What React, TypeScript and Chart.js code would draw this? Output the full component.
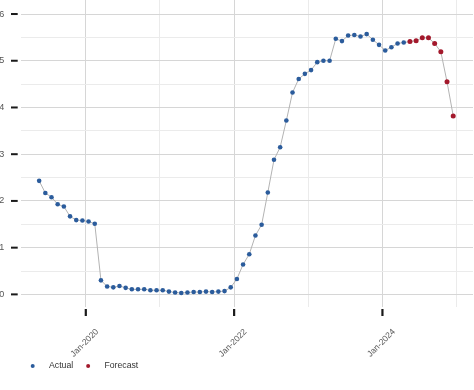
import { useEffect, useRef } from 'react';
import { Chart, registerables } from 'chart.js';

Chart.register(...registerables);

// ---- data ----
const FIRST_MONTH = '2019-05';
const actualValues = [
  2.43, 2.17, 2.08, 1.93, 1.88, 1.67, 1.59, 1.58,
  1.56, 1.51, 0.30, 0.17, 0.15, 0.18, 0.14, 0.11, 0.11, 0.11, 0.09, 0.09,
  0.09, 0.06, 0.04, 0.03, 0.04, 0.05, 0.05, 0.06, 0.05, 0.06, 0.07, 0.15,
  0.33, 0.64, 0.86, 1.26, 1.49, 2.18, 2.88, 3.15, 3.72, 4.32, 4.61, 4.72,
  4.80, 4.97, 5.00, 5.00, 5.47, 5.42, 5.54, 5.55, 5.52, 5.57, 5.45, 5.34,
  5.22, 5.29, 5.37, 5.39,
];
const forecastValues = [5.41, 5.43, 5.49, 5.49, 5.37, 5.19, 4.55, 3.82];
const seriesNames = ['Actual', 'Forecast'];
const seriesColors = ['#2b5c9c', '#a3192c'];
const xMajorTickMonths = ['2020-01', '2022-01', '2024-01'];
const xTickLabels = ['Jan-2020', 'Jan-2022', 'Jan-2024'];
const xMinorTickMonths = ['2021-01', '2023-01', '2025-01'];
const yMajorTicks = [0, 1, 2, 3, 4, 5, 6];
const yMinorTicks = [0.5, 1.5, 2.5, 3.5, 4.5, 5.5];

// ---- helpers ----
function monthIndex(ym: string): number {
  const [y, m] = ym.split('-').map(Number);
  return (y - 2020) * 12 + (m - 1);
}
const MID_MONTH = 14 / 30; // observations dated mid-month
const startIdx = monthIndex(FIRST_MONTH);
const actualPts = actualValues.map((v, i) => ({ x: startIdx + i + MID_MONTH, y: v }));
const forecastPts = forecastValues.map((v, i) => ({
  x: startIdx + actualValues.length + i + MID_MONTH,
  y: v,
}));
const allPts = [...actualPts, ...forecastPts];

const majorX = xMajorTickMonths.map(monthIndex);
const minorX = xMinorTickMonths.map(monthIndex);

const FONT = '"Liberation Sans", Arial, sans-serif';

const decorPlugin = {
  id: 'decor',
  afterDraw(chart: any) {
    const { ctx, chartArea, scales } = chart;
    ctx.save();
    ctx.fillStyle = '#1a1a1a';
    yMajorTicks.forEach((v) => {
      const py = scales.y.getPixelForValue(v);
      ctx.fillRect(chartArea.left - 10, py - 1, 6.7, 2);
    });
    majorX.forEach((m) => {
      const px = scales.x.getPixelForValue(m);
      ctx.fillRect(px - 1, chartArea.bottom + 2, 2.2, 7);
    });
    // legend
    const ly = chartArea.bottom + 59;
    let lx = 32.7;
    ctx.font = `8.7px ${FONT}`;
    ctx.textBaseline = 'middle';
    ctx.textAlign = 'left';
    seriesNames.forEach((name, i) => {
      ctx.fillStyle = seriesColors[i];
      ctx.beginPath();
      ctx.arc(lx, ly, 2, 0, Math.PI * 2);
      ctx.fill();
      ctx.fillStyle = '#333333';
      ctx.fillText(name, lx + 16.3, ly);
      lx += 16.3 + ctx.measureText(name).width + 15;
    });
    ctx.restore();
  },
};

export default function App() {
  const ref = useRef<HTMLCanvasElement | null>(null);

  useEffect(() => {
    if (!ref.current) return;
    const chart = new Chart(ref.current, {
      type: 'scatter',
      data: {
        datasets: [
          {
            label: 'line',
            data: allPts,
            showLine: true,
            borderColor: '#b3b3b3',
            borderWidth: 1,
            pointRadius: 0,
            order: 10,
          } as any,
          {
            label: seriesNames[0],
            data: actualPts,
            showLine: false,
            backgroundColor: seriesColors[0],
            borderColor: seriesColors[0],
            borderWidth: 0,
            pointRadius: 2.3,
            order: 1,
          },
          {
            label: seriesNames[1],
            data: forecastPts,
            showLine: false,
            backgroundColor: seriesColors[1],
            borderColor: seriesColors[1],
            borderWidth: 0,
            pointRadius: 2.5,
            order: 0,
          },
        ],
      },
      options: {
        animation: false,
        responsive: false,
        layout: { autoPadding: false, padding: { left: 0, right: 1, top: 0, bottom: 0 } },
        plugins: {
          legend: { display: false },
          tooltip: { enabled: false },
        },
        scales: {
          x: {
            type: 'linear',
            min: -10.47,
            max: 62.67,
            border: { display: false },
            afterBuildTicks: (s: any) => {
              s.ticks = [...majorX, ...minorX].sort((a, b) => a - b).map((v) => ({ value: v }));
            },
            afterFit: (s: any) => {
              s.height = 83;
              s.paddingLeft = 0;
              s.paddingRight = 0;
              s.paddingTop = 0;
              s.paddingBottom = 0;
            },
            grid: {
              drawTicks: false,
              lineWidth: 1,
              color: (c: any) =>
                majorX.includes(c.tick?.value) ? '#d6d6d6' : '#ebebeb',
            },
            ticks: {
              autoSkip: false,
              minRotation: 45,
              maxRotation: 45,
              labelOffset: 11.5,
              padding: 19.9,
              color: '#555555',
              font: { family: FONT, size: 8.5 },
              callback: (v: any) => {
                const k = majorX.indexOf(Number(v));
                return k >= 0 ? xTickLabels[k] : '';
              },
            },
          },
          y: {
            type: 'linear',
            min: -0.27,
            max: 6.3,
            border: { display: false },
            afterBuildTicks: (s: any) => {
              s.ticks = [...yMajorTicks, ...yMinorTicks].sort((a, b) => a - b).map((v) => ({ value: v }));
            },
            afterFit: (s: any) => {
              s.width = 21;
              s.paddingLeft = 0;
              s.paddingRight = 0;
              s.paddingTop = 0;
              s.paddingBottom = 0;
            },
            grid: {
              drawTicks: false,
              lineWidth: 1,
              color: (c: any) =>
                yMajorTicks.includes(c.tick?.value) ? '#d6d6d6' : '#ebebeb',
            },
            ticks: {
              autoSkip: false,
              padding: 16.7,
              color: '#555555',
              font: { family: FONT, size: 9 },
              callback: (v: any) => (yMajorTicks.includes(Number(v)) ? String(v) : ''),
            },
          },
        },
      },
      plugins: [decorPlugin],
    });
    return () => chart.destroy();
  }, []);

  return (
    <div
      style={{
        position: 'fixed',
        left: 0,
        top: 0,
        width: 474,
        height: 390,
        overflow: 'hidden',
        background: '#ffffff',
      }}
    >
      <canvas ref={ref} width={474} height={390} style={{ display: 'block' }} />
    </div>
  );
}
